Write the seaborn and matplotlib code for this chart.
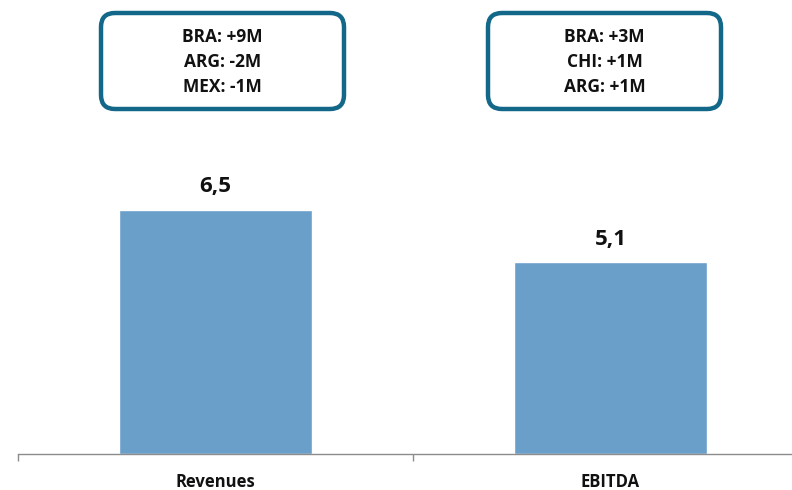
import matplotlib
matplotlib.use("Agg")
import matplotlib.pyplot as plt
import seaborn as sns
import pandas as pd
from matplotlib.patches import FancyBboxPatch

categories = ["Revenues", "EBITDA"]
values = [6.5, 5.1]
value_labels = ["6,5", "5,1"]
box_texts = [["BRA: +9M", "ARG: -2M", "MEX: -1M"],
             ["BRA: +3M", "CHI: +1M", "ARG: +1M"]]

sns.set_theme(style="white")
plt.rcParams['font.family'] = ['Open Sans', 'DejaVu Sans']

W, H = 792, 490
fig = plt.figure(figsize=(W / 100, H / 100), dpi=100)
ax = fig.add_axes([18 / W, 36 / H, 790 / W, 454 / H])

df = pd.DataFrame({"cat": categories, "val": values})
sns.barplot(data=df, x="cat", y="val", color="#6A9FCA", saturation=1,
            width=0.49, ax=ax)

ax.set_ylim(0, 454 / 37.6)
ax.set_xlim(-0.5, 1.5)
ax.set_yticks([])
ax.set_xlabel("")
ax.set_ylabel("")
for s in ["top", "right", "left"]:
    ax.spines[s].set_visible(False)
ax.spines["bottom"].set_color("#8C8C8C")
ax.spines["bottom"].set_linewidth(1.0)

ax.set_xticks([-0.5, 0.5, 1.5])
ax.set_xticklabels(["", "", ""])
ax.tick_params(axis="x", which="major", direction="out", length=5,
               color="#8C8C8C", width=1.0, bottom=True)
ax.set_xticks([0, 1], minor=True)
ax.set_xticklabels(categories, minor=True, fontsize=12, fontweight="bold",
                   color="#111111")
ax.tick_params(axis="x", which="minor", length=0, pad=14)

for i, (v, lab) in enumerate(zip(values, value_labels)):
    ax.text(i, v + 0.33, lab, ha="center", va="bottom", fontsize=16,
            fontweight="bold", color="#111111")

# overlay for annotation boxes (pixel coordinates)
ov = fig.add_axes([0, 0, 1, 1])
ov.set_xlim(0, W)
ov.set_ylim(H, 0)
ov.axis("off")
ov.patch.set_alpha(0)

boxes = [(101, 13, 243, 96), (488, 13, 233, 96)]
for (x0, y0, w, h), lines in zip(boxes, box_texts):
    p = FancyBboxPatch((x0, y0), w, h,
                       boxstyle="round,pad=0,rounding_size=14",
                       linewidth=3.2, edgecolor="#13688A",
                       facecolor="white")
    ov.add_patch(p)
    cx = x0 + w / 2
    for j, t in enumerate(lines):
        ov.text(cx, 37 + 25 * j, t, ha="center", va="center", fontsize=12.5,
                fontweight="bold", color="#111111")

fig.savefig("out.png", dpi=100)
